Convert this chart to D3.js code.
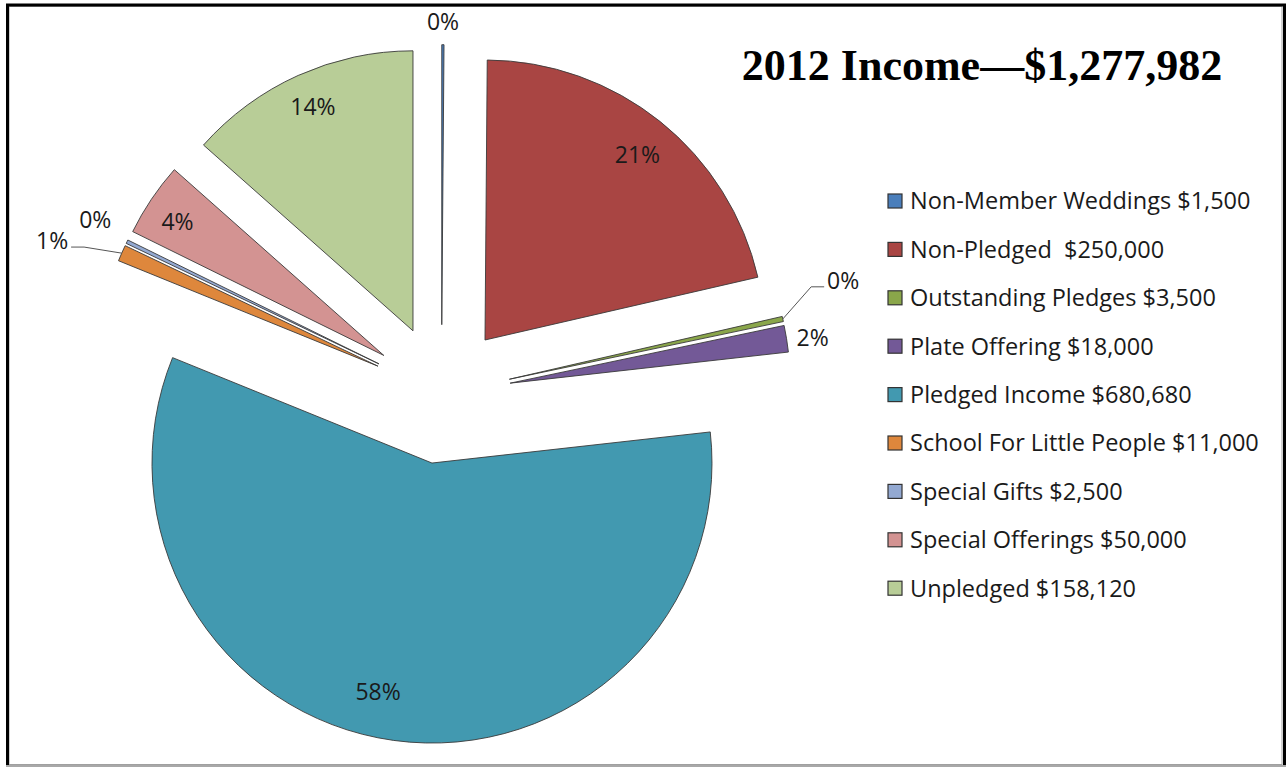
<!DOCTYPE html>
<html>
<head>
<meta charset="utf-8">
<script src="https://cdn.jsdelivr.net/npm/d3@7"></script>
<style>
    body { margin: 0; background: #fff; }
    svg { display: block; }
    .pct { font-family: "Open Sans", sans-serif; font-size: 23px; fill: #1a1a1a; }
    .legendText { font-family: "Open Sans", sans-serif; font-size: 23.5px; fill: #1a1a1a; }
    .title { font-family: "Liberation Serif", serif; font-weight: bold; font-size: 44px; fill: #000; }
</style>
</head>
<body>
<script>
//chart data
var categories = ["Non-Member Weddings", "Non-Pledged ", "Outstanding Pledges", "Plate Offering",
    "Pledged Income", "School For Little People", "Special Gifts", "Special Offerings", "Unpledged"];
var amounts = [1500, 250000, 3500, 18000, 680680, 11000, 2500, 50000, 158120];
var amountLabels = ["$1,500", "$250,000", "$3,500", "$18,000", "$680,680", "$11,000", "$2,500", "$50,000", "$158,120"];
var colors = ["#4a7ebb", "#a94543", "#8aa64a", "#735997", "#4299b0", "#de873c", "#93a9d2", "#d39392", "#b8cd97"];
var titleText = "2012 Income\u2014$1,277,982";

//label placement: distance from slice tip (px) and small turn (degrees)
var labelLayout = [
    {dist: 303, turn: 0},
    {dist: 240, turn: 0.7},
    {dist: 348, turn: -4, leader: true},
    {dist: 306, turn: 0.5},
    {dist: 235, turn: 5.4},
    {dist: 349, turn: -2.8, leader: true},
    {dist: 318, turn: 1},
    {dist: 246, turn: -0.9},
    {dist: 245, turn: 0.1}
];

var width = 1286,
    height = 767,
    radius = 280,
    explode = 69.5,
    cx = 441.5,
    cy = 394.2;

var svg = d3.select("body")
    .append("svg")
    .attr("width", width)
    .attr("height", height);

//frame
svg.append("rect")
    .attr("x", 9).attr("y", 6.5)
    .attr("width", 1273).attr("height", 758)
    .attr("fill", "none")
    .attr("stroke", "#a0a0a0")
    .attr("stroke-width", 1);
svg.append("path")
    .attr("d", "M7.5,767 V5 H1284.5 V767")
    .attr("fill", "none")
    .attr("stroke", "#000")
    .attr("stroke-width", 3);
svg.append("line")
    .attr("x1", 6).attr("x2", 1286)
    .attr("y1", 766).attr("y2", 766)
    .attr("stroke", "#a8a8a8")
    .attr("stroke-width", 2);

var total = d3.sum(amounts);

//whole percents that add up to 100 (largest remainder, like the spreadsheet does)
var raw = amounts.map(function(v){ return v / total * 100; });
var pcts = raw.map(Math.floor);
var short = 100 - d3.sum(pcts);
d3.range(raw.length)
    .sort(function(a, b){ return (raw[b] - pcts[b]) - (raw[a] - pcts[a]); })
    .slice(0, short)
    .forEach(function(i){ pcts[i] += 1; });

var pie = d3.pie().sort(null).value(function(d){ return d; });
var arcs = pie(amounts);
var arc = d3.arc().innerRadius(0).outerRadius(radius);

function dirOf(a) { return [Math.sin(a), -Math.cos(a)]; }

var g = svg.append("g").attr("transform", "translate(" + cx + "," + cy + ")");

//slices, each pulled out along its bisector
g.selectAll(".slice")
    .data(arcs)
    .enter()
    .append("path")
    .attr("class", "slice")
    .attr("transform", function(d){
        var v = dirOf((d.startAngle + d.endAngle) / 2);
        return "translate(" + v[0] * explode + "," + v[1] * explode + ")";
    })
    .attr("d", arc)
    .attr("fill", function(d, i){ return colors[i]; })
    .attr("stroke", "#3a3a3a")
    .attr("stroke-width", 0.9)
    .attr("stroke-linejoin", "round");

//percent labels
arcs.forEach(function(d, i){
    var mid = (d.startAngle + d.endAngle) / 2;
    var v = dirOf(mid);
    var tip = [v[0] * explode, v[1] * explode];
    var lay = labelLayout[i];
    var w = dirOf(mid + lay.turn * Math.PI / 180);
    var lx = tip[0] + w[0] * lay.dist,
        ly = tip[1] + w[1] * lay.dist;

    if (lay.leader) {
        var side = w[0] >= 0 ? 1 : -1;
        var ax = tip[0] + v[0] * radius,
            ay = tip[1] + v[1] * radius;
        g.append("polyline")
            .attr("points", [[ax, ay], [lx - side * 32, ly + 6], [lx - side * 19, ly + 6]].join(" "))
            .attr("fill", "none")
            .attr("stroke", "#555")
            .attr("stroke-width", 1);
    }

    g.append("text")
        .attr("class", "pct")
        .attr("x", lx)
        .attr("y", ly)
        .attr("dy", "0.36em")
        .attr("text-anchor", "middle")
        .text(pcts[i] + "%");
});

//title
svg.append("text")
    .attr("class", "title")
    .attr("x", 982)
    .attr("y", 80)
    .attr("text-anchor", "middle")
    .text(titleText);

//legend
var legend = svg.selectAll(".legendRow")
    .data(categories)
    .enter()
    .append("g")
    .attr("class", "legendRow")
    .attr("transform", function(d, i){ return "translate(888," + (201 + i * 48.4) + ")"; });

legend.append("rect")
    .attr("x", 0).attr("y", -7)
    .attr("width", 14).attr("height", 14)
    .attr("fill", function(d, i){ return colors[i]; })
    .attr("stroke", "#333")
    .attr("stroke-width", 1.2);

legend.append("text")
    .attr("class", "legendText")
    .attr("x", 22)
    .attr("y", 0)
    .attr("dy", "0.36em")
    .style("white-space", "pre")
    .text(function(d, i){ return d + " " + amountLabels[i]; });
</script>
</body>
</html>
